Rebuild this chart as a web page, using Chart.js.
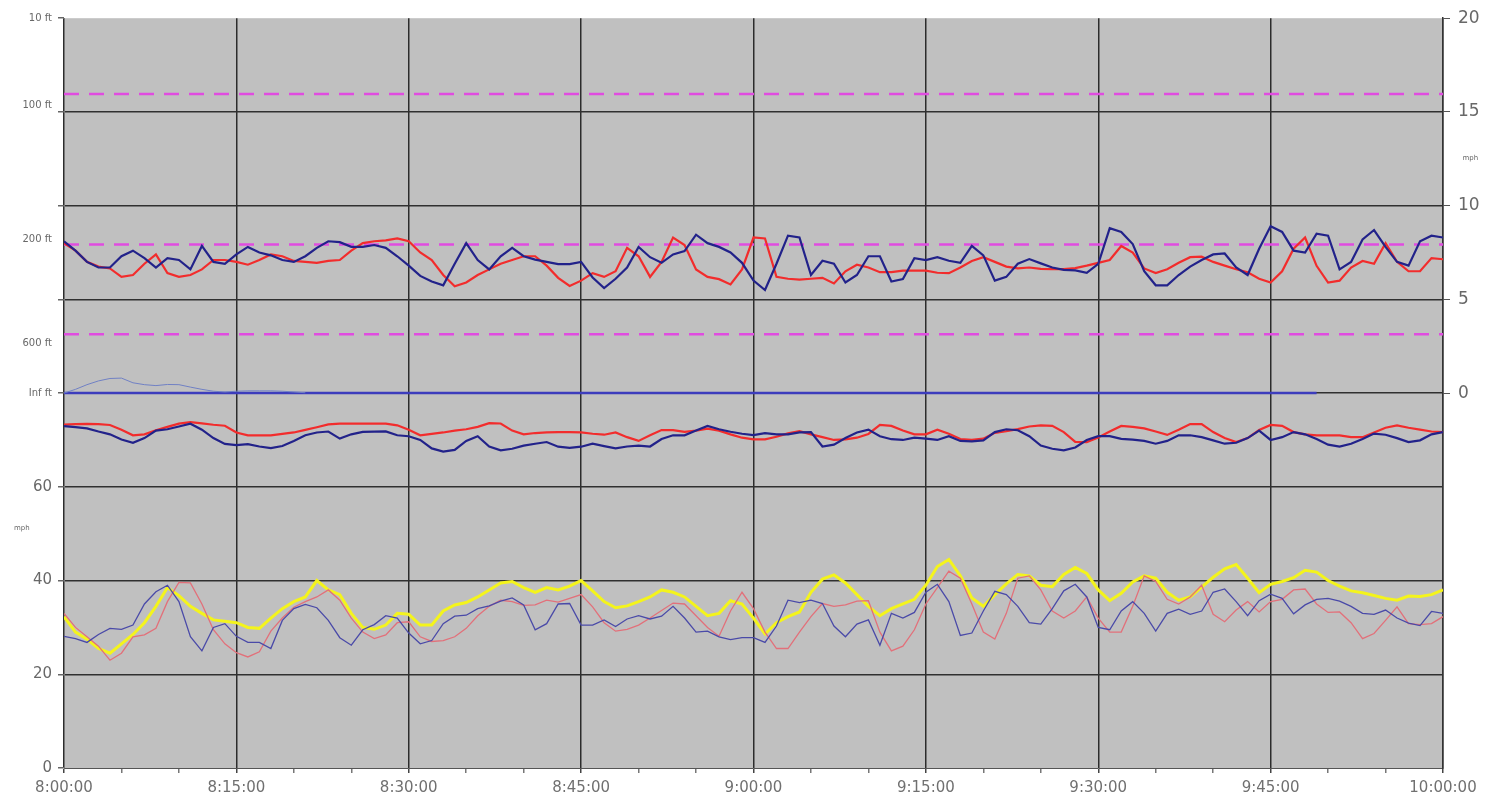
<!DOCTYPE html>
<html>
<head>
<meta charset="utf-8">
<title>Wind and visibility, 8:00 to 10:00</title>
<script src="https://cdn.jsdelivr.net/npm/chart.js@4/dist/chart.umd.min.js"></script>
<style>
  html, body { margin: 0; padding: 0; background: #fff; }
  canvas { display: block; }
</style>
</head>
<body>
<canvas id="windChart" width="1500" height="805"></canvas>
<script>
// one reading a minute, minutes after 8:00
const minutes = Array.from({ length: 121 }, (_, i) => i);

// upper band, right axis (mph)
const navyUpper = [
  8.1, 7.6, 7.0, 6.7, 6.7, 7.3, 7.6, 7.2, 6.7, 7.2,
  7.1, 6.6, 7.85, 7.0, 6.9, 7.4, 7.8, 7.5, 7.35, 7.1,
  7.0, 7.3, 7.75, 8.1, 8.05, 7.8, 7.8, 7.9, 7.75, 7.3,
  6.8, 6.25, 5.95, 5.75, 6.9, 8.0, 7.1, 6.6, 7.3, 7.75,
  7.3,
  7.12, 7.0, 6.88, 6.88, 7.0, 6.17, 5.6, 6.1, 6.7, 7.8,
  7.25, 6.95, 7.4, 7.58, 8.45, 8.0, 7.8, 7.5, 6.95, 6.0,
  5.5, 6.9, 8.4, 8.3, 6.3, 7.06, 6.9, 5.9, 6.3, 7.3,
  7.3, 5.95, 6.08, 7.2, 7.1, 7.25, 7.06, 6.95, 7.85, 7.35,
  6.0, 6.2, 6.9, 7.15, 6.92, 6.7, 6.57, 6.55, 6.42, 6.9,
  8.8, 8.6, 7.95, 6.5, 5.75, 5.75, 6.3, 6.75, 7.1, 7.4,
  7.45, 6.7, 6.3, 7.7, 8.9, 8.6, 7.6, 7.5, 8.5, 8.4,
  6.6, 7.0, 8.2, 8.7, 7.8, 7.0, 6.8, 8.1, 8.4, 8.3
];
const redUpper = [
  8.0, 7.6, 7.0, 6.75, 6.65, 6.2, 6.3, 6.9, 7.4, 6.4,
  6.2, 6.3, 6.6, 7.1, 7.1, 7.0, 6.85, 7.1, 7.4, 7.3,
  7.05, 7.0, 6.95, 7.05, 7.1, 7.6, 8.0, 8.1, 8.15, 8.25,
  8.1, 7.5, 7.1, 6.3, 5.7, 5.9, 6.3, 6.6, 6.9, 7.1,
  7.3,
  7.3, 6.8, 6.15, 5.72, 6.0, 6.4, 6.2, 6.5, 7.75, 7.3,
  6.2, 7.0, 8.3, 7.9, 6.6, 6.2, 6.08, 5.8, 6.6, 8.3,
  8.25, 6.2, 6.1, 6.05, 6.1, 6.15, 5.85, 6.5, 6.85, 6.7,
  6.45, 6.45, 6.53, 6.53, 6.53, 6.42, 6.4, 6.7, 7.05, 7.25,
  7.0, 6.75, 6.65, 6.7, 6.63, 6.61, 6.61, 6.67, 6.8, 6.95,
  7.1, 7.85, 7.5, 6.65, 6.4, 6.61, 6.95, 7.25, 7.28, 7.0,
  6.8, 6.61, 6.45, 6.1, 5.9, 6.5, 7.7, 8.3, 6.79, 5.9,
  6.0, 6.7, 7.05, 6.9, 8.0, 7.0, 6.5, 6.5, 7.2, 7.14
];

// middle band, right axis, below zero
const navyMiddle = [
  -1.76, -1.82, -1.88, -2.05, -2.2, -2.48, -2.65, -2.4, -2.0, -1.93,
  -1.78, -1.63, -1.95, -2.4, -2.71, -2.77, -2.72, -2.85, -2.93, -2.82,
  -2.55, -2.25, -2.1, -2.05, -2.43, -2.2, -2.07, -2.05, -2.04, -2.25,
  -2.3, -2.5, -2.95, -3.12, -3.03, -2.55, -2.3, -2.85, -3.05, -2.97,
  -2.8,
  -2.7, -2.61, -2.86, -2.92, -2.86, -2.7, -2.83, -2.95, -2.85, -2.8,
  -2.85, -2.45, -2.25, -2.25, -2.0, -1.75, -1.93, -2.06, -2.17, -2.24,
  -2.14, -2.2, -2.2, -2.1, -2.08, -2.85, -2.75, -2.4, -2.1, -1.95,
  -2.3, -2.46, -2.5, -2.38, -2.43, -2.5, -2.3, -2.55, -2.58, -2.52,
  -2.08, -1.93, -1.98, -2.3, -2.8, -2.97, -3.05, -2.9, -2.5, -2.3,
  -2.3, -2.44, -2.48, -2.55, -2.7, -2.55, -2.25, -2.25, -2.35, -2.52,
  -2.7, -2.65, -2.4, -2.0, -2.5, -2.35, -2.08, -2.2, -2.45, -2.75,
  -2.85, -2.7, -2.45, -2.16, -2.22, -2.4, -2.61, -2.52, -2.2, -2.08
];
const redMiddle = [
  -1.68, -1.66, -1.64, -1.66, -1.7, -1.95, -2.25, -2.2, -1.98, -1.8,
  -1.63, -1.55, -1.62, -1.69, -1.74, -2.1, -2.25, -2.25, -2.25, -2.18,
  -2.1, -1.96, -1.82, -1.67, -1.63, -1.63, -1.63, -1.63, -1.63, -1.72,
  -1.95, -2.25, -2.18, -2.1, -2.0, -1.93, -1.8, -1.6, -1.62, -2.0,
  -2.2,
  -2.13, -2.1, -2.08, -2.08, -2.1, -2.17, -2.22, -2.1, -2.35, -2.55,
  -2.25, -1.97, -1.98, -2.07, -2.0, -1.9, -2.0, -2.2, -2.38, -2.47,
  -2.47, -2.33, -2.15, -2.03, -2.2, -2.35, -2.5, -2.47, -2.38, -2.18,
  -1.7, -1.75, -2.0, -2.2, -2.2, -1.95, -2.17, -2.45, -2.5, -2.43,
  -2.12, -2.03, -1.92, -1.78, -1.72, -1.75, -2.08, -2.6, -2.61, -2.37,
  -2.05, -1.75, -1.8, -1.88, -2.05, -2.23, -1.95, -1.65, -1.65, -2.08,
  -2.4, -2.61, -2.4, -1.97, -1.7, -1.75, -2.08, -2.2, -2.25, -2.25,
  -2.26, -2.35, -2.35, -2.1, -1.85, -1.72, -1.85, -1.95, -2.05, -2.08
];

// lower band, left axis (mph)
const yellowSpeed = [
  32.3, 29.0, 27.5, 25.5, 24.5, 26.5, 28.5, 31.0, 34.5, 38.5,
  36.8, 34.5, 33.0, 31.6, 31.3, 31.0, 30.0, 29.8, 32.0, 34.0,
  35.5, 36.5, 40.0, 38.0, 37.0, 33.0, 30.0, 29.6, 30.5, 33.0,
  32.8, 30.5, 30.5, 33.5, 34.8, 35.3, 36.5, 38.0, 39.5, 39.8,
  38.5,
  37.5, 38.5, 38.0, 38.8, 40.0, 37.8, 35.5, 34.2, 34.6, 35.5,
  36.5, 38.0, 37.5, 36.5, 34.5, 32.5, 33.0, 35.7, 35.0, 32.0,
  28.6, 31.0, 32.3, 33.3, 37.5, 40.3, 41.2, 39.5, 37.0, 34.5,
  32.5, 34.0, 35.0, 36.0, 39.0, 43.0, 44.5, 41.0, 36.3, 34.5,
  37.0, 39.3, 41.3, 41.0, 39.0, 38.7, 41.3, 42.8, 41.5, 38.0,
  35.7, 37.3, 39.7, 41.0, 40.5, 37.5, 35.8, 36.5, 38.6, 40.7,
  42.5, 43.4, 40.5, 37.4, 39.2, 39.8, 40.6, 42.2, 41.8, 40.0,
  38.8, 37.8, 37.4, 36.8, 36.2, 35.8, 36.7, 36.6, 37.0, 38.0
];
const redSpeed = [
  33.0, 30.0, 28.0, 26.0, 23.0, 24.5, 28.0, 28.4, 29.8, 35.5,
  39.6, 39.5, 35.0, 29.5, 26.5, 24.6, 23.7, 24.8, 29.2, 32.0,
  34.3, 35.5, 36.5, 38.0, 35.8, 32.0, 29.0, 27.6, 28.4, 31.0,
  31.2, 28.0, 27.0, 27.2, 28.0, 29.8, 32.5, 34.5, 35.8, 35.5,
  34.7,
  34.8, 35.8, 35.4, 36.2, 37.0, 34.4, 31.0, 29.2, 29.6, 30.5,
  32.0, 33.6, 35.2, 35.0, 32.5, 30.0, 28.1, 33.5, 37.5, 34.0,
  29.0, 25.5, 25.5, 29.0, 32.3, 35.1, 34.5, 34.8, 35.6, 35.7,
  29.0, 25.0, 26.0, 29.5, 35.0, 38.5, 42.0, 40.5, 35.0, 29.0,
  27.5, 33.0, 40.5, 41.0, 38.0, 33.5, 32.0, 33.5, 36.5, 32.0,
  29.0, 29.0, 34.5, 41.0, 39.8, 36.0, 35.0, 36.5, 39.0, 32.8,
  31.2, 33.7, 35.5, 33.3, 35.5, 36.0, 38.0, 38.2, 35.0, 33.2,
  33.3, 31.0, 27.6, 28.7, 31.5, 34.4, 30.8, 30.6, 30.8, 32.3
];
const navySpeed = [
  28.1, 27.6, 26.8, 28.5, 29.8, 29.6, 30.5, 35.0, 37.6, 39.0,
  35.5, 28.0, 25.0, 30.0, 30.8, 28.1, 26.8, 26.8, 25.5, 31.5,
  34.0, 34.9, 34.2, 31.5, 27.8, 26.2, 29.5, 30.6, 32.5, 32.0,
  28.8, 26.5, 27.2, 30.8, 32.4, 32.6, 34.0, 34.6, 35.6, 36.3,
  34.8,
  29.5, 30.8, 35.0, 35.1, 30.5, 30.5, 31.6, 30.2, 31.8, 32.5,
  31.8, 32.4, 34.5, 32.0, 29.0, 29.2, 28.0, 27.4, 27.8, 27.8,
  26.8, 30.3, 35.8, 35.3, 35.8, 35.1, 30.3, 28.0, 30.7, 31.6,
  26.2, 33.0, 32.0, 33.2, 37.5, 39.2, 35.5, 28.3, 28.8, 33.5,
  37.7, 37.0, 34.5, 31.0, 30.7, 34.0, 37.8, 39.2, 36.5, 30.0,
  29.5, 33.5, 35.5, 33.0, 29.2, 33.0, 33.9, 32.8, 33.5, 37.5,
  38.2, 35.5, 32.5, 35.7, 37.1, 36.2, 32.9, 34.8, 36.0, 36.2,
  35.6, 34.5, 33.0, 32.8, 33.7, 32.0, 30.9, 30.4, 33.4, 33.0
];

// zero reference line and the small drift at the start
const zeroTimes = [0, 109];
const zeroValues = [0, 0];
const driftTimes = [0, 1, 2, 3, 4, 5, 6, 7, 8, 9, 10, 11, 12, 13, 14, 15, 16, 17, 18, 19, 20, 21];
const driftValues = [0, 0.2, 0.45, 0.65, 0.78, 0.8, 0.55, 0.45, 0.4, 0.46, 0.45, 0.32, 0.2, 0.1, 0.06, 0.1, 0.12, 0.12, 0.12, 0.1, 0.06, 0.02];

// dashed limit lines (right axis)
const limitLevels = [15.95, 7.93, 3.14];

// axis ticks
const leftTickValues = [0, 20, 40, 51.2, 60, 80, 90.7, 100, 112.8, 120, 140, 141.3, 160];
const leftTickLabels = ['0', '20', '40', 'mph', '60', 'Inf ft', '600 ft', '', '200 ft', '', '', '100 ft', '10 ft'];
const rightTickValues = [0, 5, 10, 12.55, 15, 20];
const rightTickLabels = ['0', '5', '10', 'mph', '15', '20'];

const FONT = 'DejaVu Sans';
const CLEAR = 'rgba(0,0,0,0)';

function timeLabel(m) {
  const h = 8 + Math.floor(m / 60);
  const mm = String(m % 60).padStart(2, '0');
  return h + ':' + mm + ':00';
}

function toPoints(xs, ys) {
  return xs.map((x, i) => ({ x: x, y: ys[i] }));
}

function series(label, xs, ys, axis, color, width, order) {
  return {
    label: label,
    data: toPoints(xs, ys),
    yAxisID: axis,
    borderColor: color,
    borderWidth: width,
    pointRadius: 0,
    tension: 0,
    fill: false,
    order: order
  };
}

const plotBackground = {
  id: 'plotBackground',
  beforeDraw(chart) {
    const { ctx, chartArea } = chart;
    ctx.save();
    ctx.fillStyle = '#c0c0c0';
    ctx.fillRect(chartArea.left, chartArea.top, chartArea.right - chartArea.left, chartArea.bottom - chartArea.top);
    ctx.restore();
  }
};

const datasets = [];
limitLevels.forEach((lvl, i) => {
  const d = series('limit ' + (i + 1), [minutes[0], minutes[minutes.length - 1]], [lvl, lvl], 'yR', '#e04ce0', 2.5, 10);
  d.borderDash = [15, 10];
  datasets.push(d);
});
datasets.push(series('speed yellow', minutes, yellowSpeed, 'y', '#f4f41c', 3, 8));
datasets.push(series('speed red', minutes, redSpeed, 'y', '#e2707a', 1.3, 7));
datasets.push(series('speed navy', minutes, navySpeed, 'y', '#4a4aa8', 1.3, 6));
datasets.push(series('zero', zeroTimes, zeroValues, 'yR', '#3c3cbc', 2.5, 5));
datasets.push(series('drift', driftTimes, driftValues, 'yR', '#7080c4', 1, 4));
datasets.push(series('upper red', minutes, redUpper, 'yR', '#f22c2c', 2.2, 3));
datasets.push(series('middle red', minutes, redMiddle, 'yR', '#f22c2c', 2.2, 3));
datasets.push(series('upper navy', minutes, navyUpper, 'yR', '#22228a', 2.2, 2));
datasets.push(series('middle navy', minutes, navyMiddle, 'yR', '#22228a', 2.2, 2));

const ctx = document.getElementById('windChart').getContext('2d');
new Chart(ctx, {
  type: 'line',
  data: { datasets: datasets },
  plugins: [plotBackground],
  options: {
    responsive: false,
    animation: false,
    events: [],
    layout: { padding: { top: 13, left: 0, right: 0, bottom: 0 } },
    plugins: {
      legend: { display: false },
      tooltip: { enabled: false }
    },
    scales: {
      x: {
        type: 'linear',
        min: 0,
        max: 120,
        afterFit: (s) => { s.height = 37; },
        ticks: {
          stepSize: 5,
          autoSkip: false,
          maxRotation: 0,
          padding: 6,
          color: '#707070',
          font: { family: FONT, size: 15 },
          callback: (v) => (v % 15 === 0 ? timeLabel(v) : '')
        },
        grid: {
          color: (c) => (c.tick && c.tick.value % 15 === 0 ? '#2c2c2c' : CLEAR),
          lineWidth: 1.5,
          tickLength: 5,
          tickColor: (c) => (c.tick && c.tick.value % 15 === 0 ? '#444' : '#777')
        },
        border: { color: '#555', width: 1 }
      },
      y: {
        type: 'linear',
        position: 'left',
        min: 0,
        max: 160,
        afterFit: (s) => { s.width = 64; },
        afterBuildTicks: (s) => { s.ticks = leftTickValues.map((v) => ({ value: v })); },
        ticks: {
          autoSkip: false,
          padding: 6,
          color: '#686868',
          font: (c) => {
            const lbl = leftTickLabels[c.index] || '';
            if (lbl === 'mph') return { family: FONT, size: 7 };
            if (lbl.indexOf('ft') >= 0) return { family: FONT, size: 10 };
            return { family: FONT, size: 15 };
          },
          callback: (v, i) => (leftTickLabels[i] === 'mph' ? 'mph          ' : leftTickLabels[i])
        },
        grid: {
          color: (c) => {
            const v = c.tick ? c.tick.value : -1;
            return v > 0 && v < 160 && v % 20 === 0 ? '#303030' : CLEAR;
          },
          lineWidth: 1.5,
          tickLength: 6,
          tickColor: (c) => (c.tick && c.tick.value % 20 === 0 ? '#666' : CLEAR)
        },
        border: { color: '#777', width: 1 }
      },
      yR: {
        type: 'linear',
        position: 'right',
        min: -20,
        max: 20,
        afterFit: (s) => { s.width = 57; },
        afterBuildTicks: (s) => { s.ticks = rightTickValues.map((v) => ({ value: v })); },
        ticks: {
          autoSkip: false,
          padding: 8,
          color: '#686868',
          font: (c) => (rightTickLabels[c.index] === 'mph' ? { family: FONT, size: 7 } : { family: FONT, size: 17 }),
          callback: (v, i) => (rightTickLabels[i] === 'mph' ? '  mph' : rightTickLabels[i])
        },
        grid: {
          drawOnChartArea: false,
          tickLength: 7,
          tickColor: (c) => (c.tick && c.tick.value === 12.55 ? CLEAR : '#555')
        },
        border: { color: '#333', width: 1.5 }
      }
    }
  }
});
</script>
</body>
</html>
